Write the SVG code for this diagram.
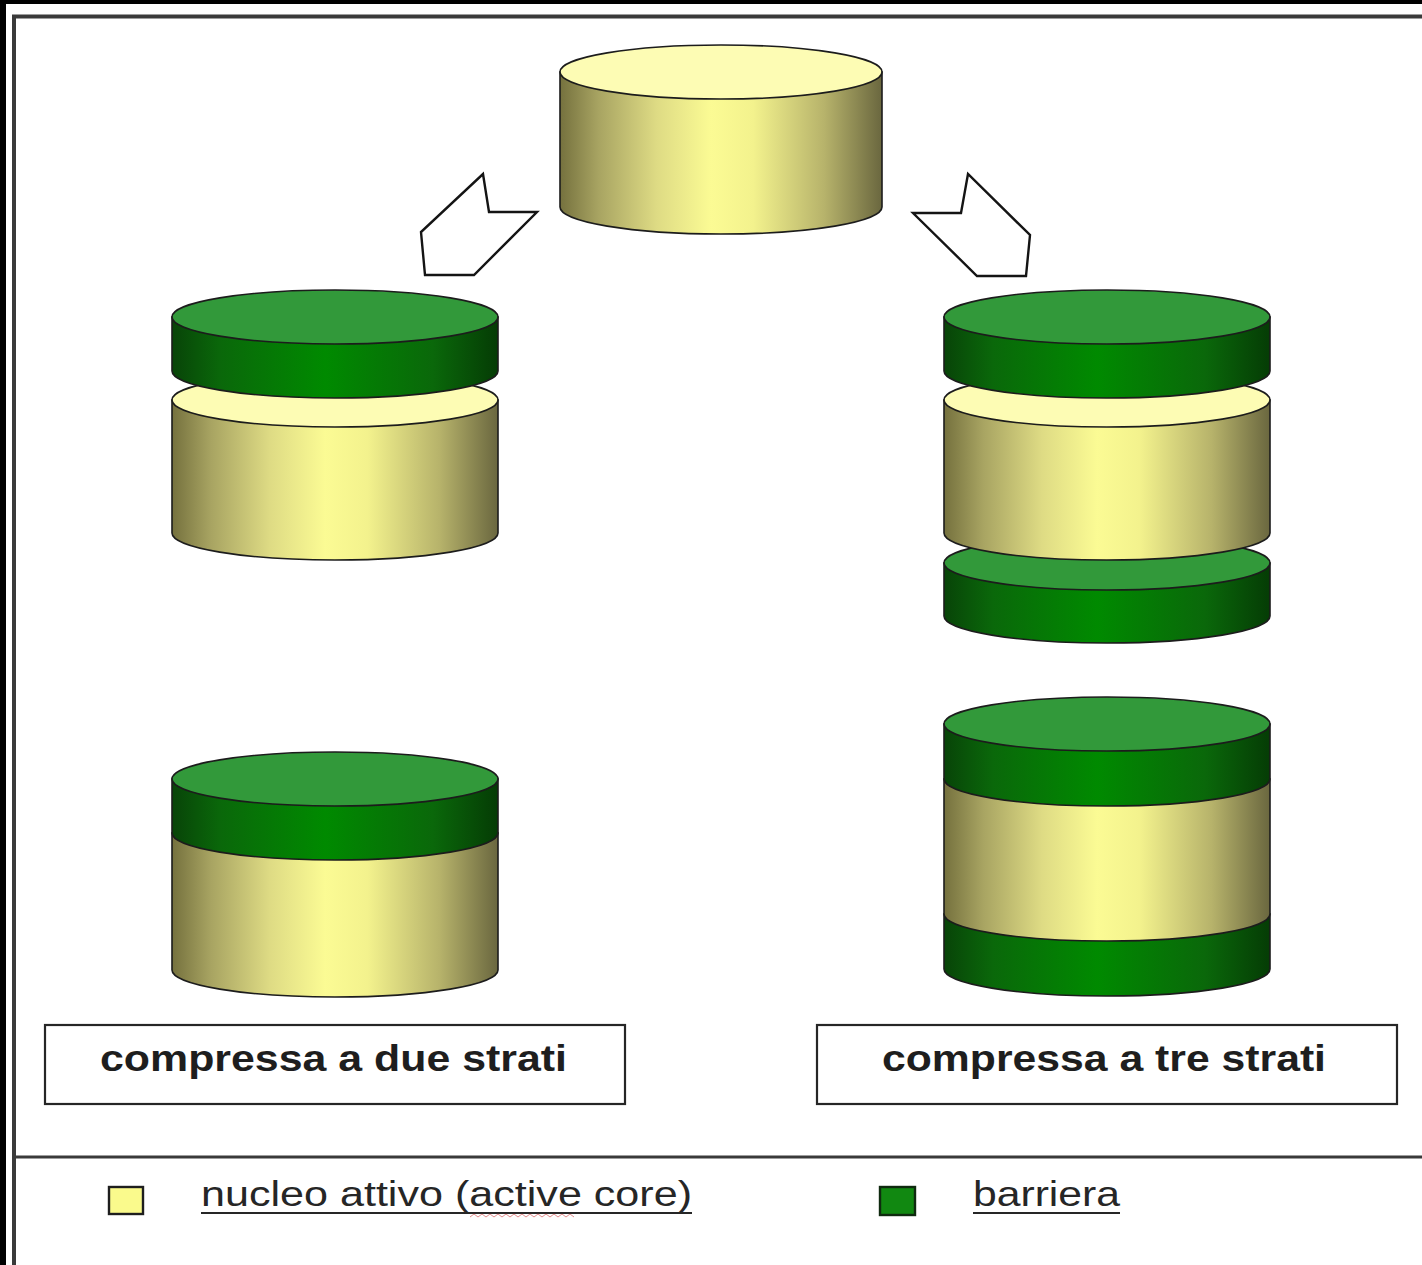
<svg xmlns="http://www.w3.org/2000/svg" width="1422" height="1265" viewBox="0 0 1422 1265">
  <defs>
    <linearGradient id="coreSide" x1="0" y1="0" x2="1" y2="0">
      <stop offset="0" stop-color="#75713e"/>
      <stop offset="0.12" stop-color="#a8a462"/>
      <stop offset="0.3" stop-color="#dedb84"/>
      <stop offset="0.47" stop-color="#fbfb94"/>
      <stop offset="0.6" stop-color="#f3f28d"/>
      <stop offset="0.82" stop-color="#b7b36b"/>
      <stop offset="1" stop-color="#6a673f"/>
    </linearGradient>
    <linearGradient id="barrierSide" x1="0" y1="0" x2="1" y2="0">
      <stop offset="0" stop-color="#084408"/>
      <stop offset="0.15" stop-color="#0a680a"/>
      <stop offset="0.47" stop-color="#008a00"/>
      <stop offset="0.8" stop-color="#0a680a"/>
      <stop offset="1" stop-color="#053c05"/>
    </linearGradient>
    <style>
      .edge { stroke: #1c1c1c; stroke-width: 1.6; }
      .core { fill: url(#coreSide); }
      .coreTop { fill: #fdfcb4; }
      .bar { fill: url(#barrierSide); }
      .barTop { fill: #32993a; }
      .arrow { fill: #ffffff; stroke: #141414; stroke-width: 2.4; stroke-linejoin: miter; }
      .box { fill: #ffffff; stroke: #262626; stroke-width: 2.2; }
      .lbl { font-family: "Liberation Sans", Arial, sans-serif; font-weight: bold; font-size: 37px; fill: #1e1e1e; }
      .leg { font-family: "Liberation Sans", Arial, sans-serif; font-size: 35px; fill: #262626; }
      .frame { stroke: #3a3a3a; fill: none; }
    </style>
  </defs>

  <!-- page background and outer frame -->
  <rect x="0" y="0" width="1422" height="1265" fill="#ffffff"/>
  <rect x="0" y="0" width="1422" height="4" fill="#000000"/>
  <rect x="0" y="0" width="6" height="1265" fill="#000000"/>
  <line class="frame" x1="12" y1="16.5" x2="1422" y2="16.5" stroke-width="4"/>
  <line class="frame" x1="14" y1="15" x2="14" y2="1265" stroke-width="4"/>
  <line class="frame" x1="14" y1="1157" x2="1422" y2="1157" stroke-width="3"/>

  <!-- connectors: block arrows from the single tablet to the two layered designs -->
  <g id="connectors">
    <polygon class="arrow" points="483,174 489,212 537,212 474,275 425,275 421,232"/>
    <polygon class="arrow" points="968,174 961,213 913,213 977,276 1026,276 1030,235"/>
  </g>

  <!-- single-layer tablet -->
  <g id="tablet-core">
    <path class="core edge" d="M560,72 L560,207 A161,27 0 0 0 882,207 L882,72 Z"/>
    <ellipse class="coreTop edge" cx="721" cy="72" rx="161" ry="27"/>
  </g>

  <!-- two-layer stack, separated -->
  <g id="two-layer-exploded">
    <path class="core edge" d="M172,400 L172,533 A163,27 0 0 0 498,533 L498,400 Z"/>
    <ellipse class="coreTop edge" cx="335" cy="400" rx="163" ry="27"/>
    <path class="bar edge" d="M172,317 L172,371 A163,27 0 0 0 498,371 L498,317 Z"/>
    <ellipse class="barTop edge" cx="335" cy="317" rx="163" ry="27"/>
  </g>

  <!-- three-layer stack, separated -->
  <g id="three-layer-exploded">
    <path class="bar edge" d="M944,563 L944,616 A163,27 0 0 0 1270,616 L1270,563 Z"/>
    <ellipse class="barTop edge" cx="1107" cy="563" rx="163" ry="27"/>
    <path class="core edge" d="M944,400 L944,533 A163,27 0 0 0 1270,533 L1270,400 Z"/>
    <ellipse class="coreTop edge" cx="1107" cy="400" rx="163" ry="27"/>
    <path class="bar edge" d="M944,317 L944,371 A163,27 0 0 0 1270,371 L1270,317 Z"/>
    <ellipse class="barTop edge" cx="1107" cy="317" rx="163" ry="27"/>
  </g>

  <!-- two-layer tablet, compressed -->
  <g id="two-layer-tablet">
    <path class="core edge" d="M172,833 L172,970 A163,27 0 0 0 498,970 L498,833 Z"/>
    <path class="bar edge" d="M172,779 L172,833 A163,27 0 0 0 498,833 L498,779 Z"/>
    <ellipse class="barTop edge" cx="335" cy="779" rx="163" ry="27"/>
  </g>

  <!-- three-layer tablet, compressed -->
  <g id="three-layer-tablet">
    <path class="bar edge" d="M944,914 L944,969 A163,27 0 0 0 1270,969 L1270,914 Z"/>
    <path class="core edge" d="M944,779 L944,914 A163,27 0 0 0 1270,914 L1270,779 Z"/>
    <path class="bar edge" d="M944,724 L944,779 A163,27 0 0 0 1270,779 L1270,724 Z"/>
    <ellipse class="barTop edge" cx="1107" cy="724" rx="163" ry="27"/>
  </g>

  <!-- captions -->
  <g id="caption-two">
    <rect class="box" x="45" y="1025" width="580" height="79"/>
    <text class="lbl" x="100" y="1071" textLength="467" lengthAdjust="spacingAndGlyphs">compressa a due strati</text>
  </g>
  <g id="caption-three">
    <rect class="box" x="817" y="1025" width="580" height="79"/>
    <text class="lbl" x="882" y="1071" textLength="444" lengthAdjust="spacingAndGlyphs">compressa a tre strati</text>
  </g>

  <!-- legend -->
  <g id="legend-core">
    <rect x="109" y="1187" width="34" height="27" fill="#fafa8c" stroke="#1e1e1e" stroke-width="2.4"/>
    <text class="leg" x="201" y="1206" textLength="491" lengthAdjust="spacingAndGlyphs">nucleo attivo (active core)</text>
    <line x1="201" y1="1213" x2="692" y2="1213" stroke="#262626" stroke-width="2"/>
    <path d="M470,1217 l4,-3 l4,3 l4,-3 l4,3 l4,-3 l4,3 l4,-3 l4,3 l4,-3 l4,3 l4,-3 l4,3 l4,-3 l4,3 l4,-3 l4,3 l4,-3 l4,3 l4,-3 l4,3 l4,-3 l4,3 l4,-3 l4,3 l4,-3 l4,3" fill="none" stroke="#d04040" stroke-width="1" opacity="0.6"/>
  </g>
  <g id="legend-barrier">
    <rect x="880" y="1187" width="35" height="28" fill="#118811" stroke="#0f2a0f" stroke-width="2.4"/>
    <text class="leg" x="973" y="1206" textLength="147" lengthAdjust="spacingAndGlyphs">barriera</text>
    <line x1="973" y1="1213" x2="1120" y2="1213" stroke="#262626" stroke-width="2"/>
  </g>
</svg>
